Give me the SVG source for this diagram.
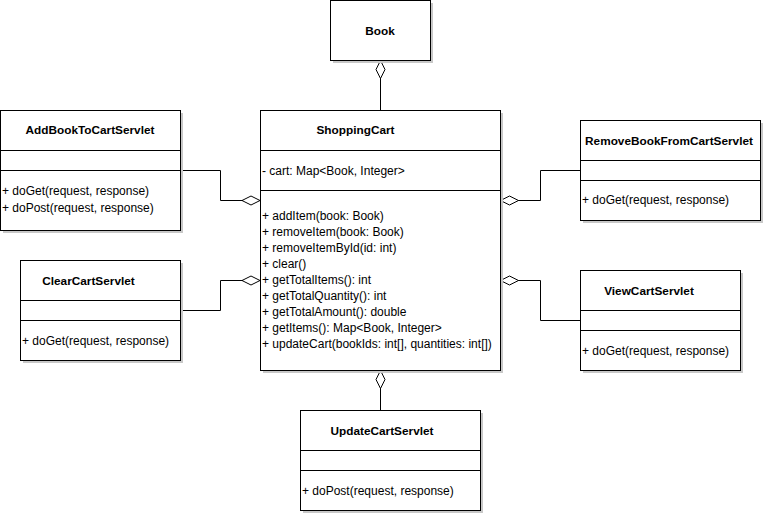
<svg xmlns="http://www.w3.org/2000/svg" width="765" height="515" viewBox="0 0 765 515">
  <style>
    .shadow { fill: #c8c8c8; }
    .box { fill: #ffffff; stroke: #000000; stroke-width: 1; }
    .div { stroke: #000000; stroke-width: 1; }
    .title { font-family: "Liberation Sans", Arial, sans-serif; font-size: 11.8px; font-weight: bold; text-anchor: middle; fill: #000; }
    .member { font-family: "Liberation Sans", Arial, sans-serif; font-size: 12px; fill: #000; }
    .edge { fill: none; stroke: #000000; stroke-width: 1; }
    .diamond { fill: #ffffff; stroke: #000000; stroke-width: 1; }
  </style>
  <rect width="765" height="515" fill="#ffffff"/>

  <!-- connectors (aggregation, hollow diamond at the whole side) -->
  <g id="connectors">
    <!-- ShoppingCart -> Book -->
    <path class="edge" d="M380.5 110 V78"/>
    <polygon class="diamond" points="380.5,60.5 385,69.5 380.5,78.5 376,69.5"/>
    <!-- AddBookToCartServlet -> ShoppingCart -->
    <path class="edge" d="M180 170.5 H220.5 V200.5 H244"/>
    <polygon class="diamond" points="260,200.5 251,205 242,200.5 251,196"/>
    <!-- ClearCartServlet -> ShoppingCart -->
    <path class="edge" d="M180 310.5 H220.5 V280.5 H244"/>
    <polygon class="diamond" points="260,280.5 251,285 242,280.5 251,276"/>
    <!-- RemoveBookFromCartServlet -> ShoppingCart -->
    <path class="edge" d="M580 170.5 H540.5 V200.5 H518"/>
    <polygon class="diamond" points="500.5,200.5 509.5,205 518.5,200.5 509.5,196"/>
    <!-- ViewCartServlet -> ShoppingCart -->
    <path class="edge" d="M580 320.5 H540.5 V280.5 H518"/>
    <polygon class="diamond" points="500.5,280.5 509.5,285 518.5,280.5 509.5,276"/>
    <!-- UpdateCartServlet -> ShoppingCart -->
    <path class="edge" d="M380.5 410 V388"/>
    <polygon class="diamond" points="380.5,370.5 385,379.5 380.5,388.5 376,379.5"/>
  </g>

  <g id="Book">
    <rect class="shadow" x="333" y="3" width="100" height="60"/>
    <rect class="box" x="330.5" y="0.5" width="100" height="60"/>
    <text class="title" x="380" y="35">Book</text>
  </g>

  <g id="ShoppingCart">
    <rect class="shadow" x="263" y="113" width="240" height="260"/>
    <rect class="box" x="260.5" y="110.5" width="240" height="260"/>
    <line class="div" x1="260.5" y1="150.5" x2="500.5" y2="150.5"/>
    <line class="div" x1="260.5" y1="190.5" x2="500.5" y2="190.5"/>
    <text class="title" x="355.5" y="134">ShoppingCart</text>
    <text class="member" x="262" y="175">- cart: Map&lt;Book, Integer&gt;</text>
    <text class="member" x="262" y="220">+ addItem(book: Book)</text>
    <text class="member" x="262" y="236">+ removeItem(book: Book)</text>
    <text class="member" x="262" y="252">+ removeItemById(id: int)</text>
    <text class="member" x="262" y="268">+ clear()</text>
    <text class="member" x="262" y="284">+ getTotalItems(): int</text>
    <text class="member" x="262" y="300">+ getTotalQuantity(): int</text>
    <text class="member" x="262" y="316">+ getTotalAmount(): double</text>
    <text class="member" x="262" y="332">+ getItems(): Map&lt;Book, Integer&gt;</text>
    <text class="member" x="262" y="348">+ updateCart(bookIds: int[], quantities: int[])</text>
  </g>

  <g id="AddBookToCartServlet">
    <rect class="shadow" x="3" y="113" width="180" height="120"/>
    <rect class="box" x="0.5" y="110.5" width="180" height="120"/>
    <line class="div" x1="0.5" y1="150.5" x2="180.5" y2="150.5"/>
    <line class="div" x1="0.5" y1="170.5" x2="180.5" y2="170.5"/>
    <text class="title" x="90" y="134">AddBookToCartServlet</text>
    <text class="member" x="2" y="195">+ doGet(request, response)</text>
    <text class="member" x="2" y="212">+ doPost(request, response)</text>
  </g>

  <g id="RemoveBookFromCartServlet">
    <rect class="shadow" x="583" y="123" width="180" height="100"/>
    <rect class="box" x="580.5" y="120.5" width="180" height="100"/>
    <line class="div" x1="580.5" y1="160.5" x2="760.5" y2="160.5"/>
    <line class="div" x1="580.5" y1="180.5" x2="760.5" y2="180.5"/>
    <text class="title" x="669" y="145">RemoveBookFromCartServlet</text>
    <text class="member" x="582" y="204">+ doGet(request, response)</text>
  </g>

  <g id="ClearCartServlet">
    <rect class="shadow" x="23" y="263" width="160" height="100"/>
    <rect class="box" x="20.5" y="260.5" width="160" height="100"/>
    <line class="div" x1="20.5" y1="300.5" x2="180.5" y2="300.5"/>
    <line class="div" x1="20.5" y1="320.5" x2="180.5" y2="320.5"/>
    <text class="title" x="88.5" y="285">ClearCartServlet</text>
    <text class="member" x="22" y="345">+ doGet(request, response)</text>
  </g>

  <g id="ViewCartServlet">
    <rect class="shadow" x="583" y="273" width="160" height="100"/>
    <rect class="box" x="580.5" y="270.5" width="160" height="100"/>
    <line class="div" x1="580.5" y1="310.5" x2="740.5" y2="310.5"/>
    <line class="div" x1="580.5" y1="330.5" x2="740.5" y2="330.5"/>
    <text class="title" x="649" y="295">ViewCartServlet</text>
    <text class="member" x="582" y="355">+ doGet(request, response)</text>
  </g>

  <g id="UpdateCartServlet">
    <rect class="shadow" x="303" y="413" width="180" height="100"/>
    <rect class="box" x="300.5" y="410.5" width="180" height="100"/>
    <line class="div" x1="300.5" y1="450.5" x2="480.5" y2="450.5"/>
    <line class="div" x1="300.5" y1="470.5" x2="480.5" y2="470.5"/>
    <text class="title" x="382" y="435">UpdateCartServlet</text>
    <text class="member" x="302" y="495">+ doPost(request, response)</text>
  </g>
</svg>
